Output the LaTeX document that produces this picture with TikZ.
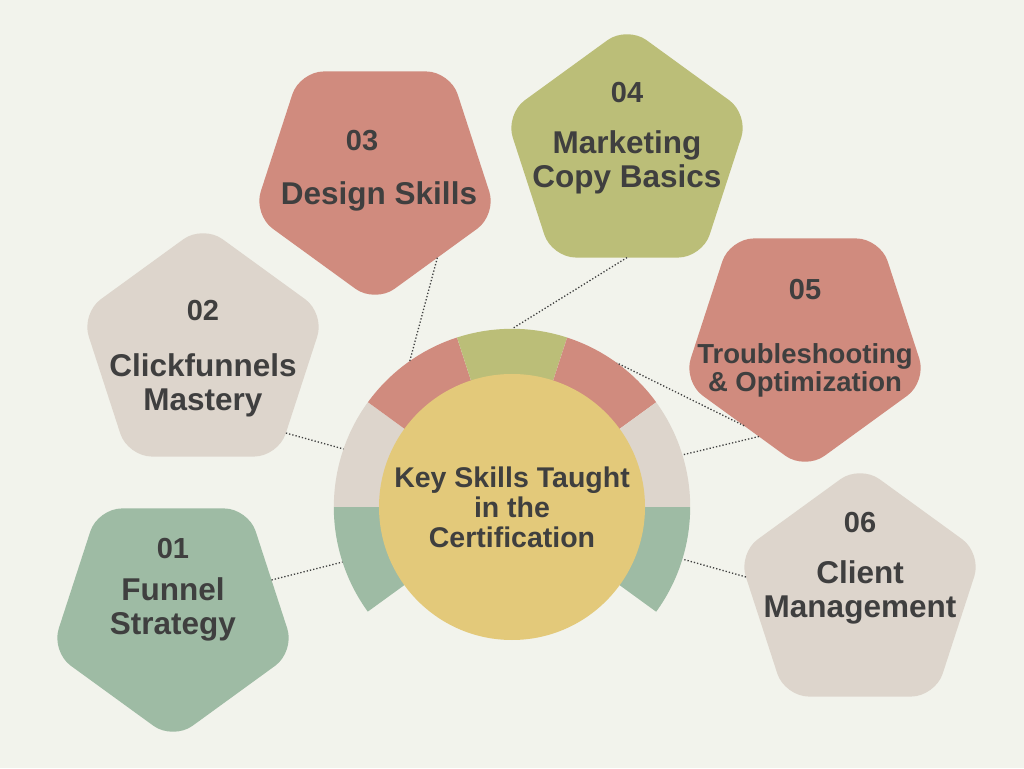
\documentclass[tikz,border=0pt]{standalone}
\usepackage{fontspec}
\setmainfont{Liberation Sans}
\usetikzlibrary{positioning, shapes, calc}
\definecolor{paper}{HTML}{F2F3EC}
\definecolor{sage}{HTML}{9EBBA4}
\definecolor{sand}{HTML}{DDD5CC}
\definecolor{clay}{HTML}{D08B7E}
\definecolor{olive}{HTML}{BBBE78}
\definecolor{gold}{HTML}{E3C97A}
\definecolor{ink}{HTML}{3F3F3F}
\tikzstyle{penta} = [regular polygon, regular polygon sides=5,
    minimum size=256pt, inner sep=0pt, outer sep=0pt, rounded corners=24pt]
\tikzstyle{skillnum} = [text=ink, inner sep=0pt,
    font=\fontsize{29}{32}\selectfont\bfseries]
\tikzstyle{skilltitle} = [text=ink, inner sep=0pt, align=center,
    font=\fontsize{31.5}{34}\selectfont\bfseries]
\tikzstyle{link} = [draw=ink, line width=1.3pt, dash pattern=on 1.3pt off 2pt]

\begin{document}
\begin{tikzpicture}[x=1pt, y=1pt]
        \fill[paper] (0,0) rectangle (1024,768);
        \useasboundingbox (0,0) rectangle (1024,768);

        % pentagons
        \node[penta, fill=sage, shape border rotate=180](p1) at (173,156){};
        \node[penta, fill=sand](p2) at (203,415){};
        \node[penta, fill=clay, shape border rotate=180](p3) at (375,593){};
        \node[penta, fill=olive](p4) at (627,614){};
        \node[penta, fill=clay, shape border rotate=180](p5) at (805,426){};
        \node[penta, fill=sand](p6) at (860,175){};

        % ring
        \node[circle, minimum size=356pt, inner sep=0pt](ring) at (512,261){};
        \fill[sage] (ring.center) -- (ring.180) arc[start angle=180, end angle=216, radius=178pt] -- cycle;
        \fill[sand] (ring.center) -- (ring.144) arc[start angle=144, end angle=180, radius=178pt] -- cycle;
        \fill[clay] (ring.center) -- (ring.108) arc[start angle=108, end angle=144, radius=178pt] -- cycle;
        \fill[olive] (ring.center) -- (ring.72) arc[start angle=72, end angle=108, radius=178pt] -- cycle;
        \fill[clay] (ring.center) -- (ring.36) arc[start angle=36, end angle=72, radius=178pt] -- cycle;
        \fill[sand] (ring.center) -- (ring.0) arc[start angle=0, end angle=36, radius=178pt] -- cycle;
        \fill[sage] (ring.center) -- (ring.-36) arc[start angle=-36, end angle=0, radius=178pt] -- cycle;

        \node[
            circle,
            fill=gold,
            minimum size=266pt,
            inner sep=0pt,
            text=ink,
            align=center,
            font=\fontsize{28.5}{30}\selectfont\bfseries
        ](hub) at (ring.center){Key Skills Taught\\in the\\Certification};

        % labels
        \node[skillnum](n1) at ($(p1)+(0,63)$){01};
        \node[skilltitle](t1) at ($(p1)+(0,3)$){Funnel\\Strategy};
        \node[skillnum](n2) at ($(p2)+(0,42)$){02};
        \node[skilltitle](t2) at ($(p2)+(0,-32)$){Clickfunnels\\Mastery};
        \node[skillnum](n3) at ($(p3)+(-13,34)$){03};
        \node[skilltitle](t3) at ($(p3)+(4,-21)$){Design Skills};
        \node[skillnum](n4) at ($(p4)+(0,61)$){04};
        \node[skilltitle](t4) at ($(p4)+(0,-8)$){Marketing\\Copy Basics};
        \node[skillnum](n5) at ($(p5)+(0,52)$){05};
        \node[
            skilltitle,
            font=\fontsize{27.5}{28}\selectfont\bfseries
        ](t5) at ($(p5)+(0,-28)$){Troubleshooting\\\& Optimization};
        \node[skillnum](n6) at ($(p6)+(0,70)$){06};
        \node[skilltitle](t6) at ($(p6)+(0,1)$){Client\\Management};

        % connectors
        \draw[link] (p1.18) -- (ring.198);
        \draw[link] (p2.-44) -- (ring.161);
        \draw[link] (p3.-53) -- (ring.125);
        \draw[link] (p4.-90) -- (ring.90);
        \draw[link] (p5.-126) -- (ring.54);
        \draw[link] (p5.-116) -- (ring.17);
        \draw[link] (p6.172) -- (ring.-17);
    \end{tikzpicture}
\end{document}
